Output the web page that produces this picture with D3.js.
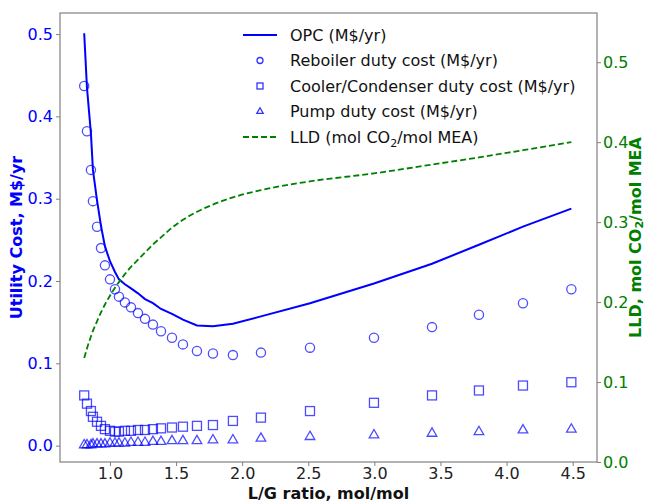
<!DOCTYPE html>
<html>
<head>
<meta charset="utf-8">
<script src="https://cdn.jsdelivr.net/npm/d3@7"></script>
<style>
  body { margin: 0; background: #fff; }
  svg { font-family: "DejaVu Sans", sans-serif; }
</style>
</head>
<body>
<svg id="chart" width="647" height="502"></svg>
<script>
// L/G ratio (mol/mol)
const lgRatio = [0.805, 0.826, 0.856, 0.871, 0.902, 0.932, 0.962, 1.0, 1.038, 1.068,
  1.113, 1.159, 1.212, 1.265, 1.325, 1.386, 1.469, 1.552, 1.658, 1.779,
  1.93, 2.142, 2.513, 2.997, 3.436, 3.791, 4.124, 4.49];

// costs in M$/yr
const opc = [0.501, 0.435, 0.379, 0.335, 0.298, 0.267, 0.242, 0.224, 0.211, 0.202,
  0.196, 0.191, 0.185, 0.178, 0.173, 0.166, 0.16, 0.153, 0.146, 0.145,
  0.148, 0.157, 0.173, 0.197, 0.221, 0.244, 0.266, 0.288];
const reboiler = [0.437, 0.382, 0.335, 0.297, 0.266, 0.24, 0.219, 0.202, 0.19, 0.181,
  0.174, 0.168, 0.161, 0.154, 0.147, 0.139, 0.131, 0.123, 0.115, 0.112,
  0.11, 0.113, 0.119, 0.131, 0.144, 0.159, 0.173, 0.19];
const cooler = [0.061, 0.051, 0.042, 0.035, 0.029, 0.024, 0.02, 0.018, 0.017, 0.017,
  0.018, 0.018, 0.019, 0.019, 0.02, 0.021, 0.022, 0.023, 0.024, 0.025,
  0.03, 0.034, 0.042, 0.052, 0.061, 0.067, 0.073, 0.077];
const pump = [0.002, 0.002, 0.002, 0.003, 0.003, 0.003, 0.003, 0.004, 0.004, 0.004,
  0.004, 0.005, 0.005, 0.005, 0.006, 0.006, 0.007, 0.007, 0.007, 0.008,
  0.008, 0.01, 0.012, 0.014, 0.016, 0.018, 0.02, 0.021];

// lean loading difference, mol CO2/mol MEA
const lld = [0.13, 0.142, 0.157, 0.164, 0.176, 0.187, 0.197, 0.208, 0.218, 0.225,
  0.235, 0.244, 0.253, 0.262, 0.272, 0.281, 0.293, 0.303, 0.313, 0.322,
  0.331, 0.34, 0.351, 0.361, 0.372, 0.381, 0.39, 0.4];

const xTicks = [1.0, 1.5, 2.0, 2.5, 3.0, 3.5, 4.0, 4.5];
const leftTicks = [0.0, 0.1, 0.2, 0.3, 0.4, 0.5];
const rightTicks = [0.0, 0.1, 0.2, 0.3, 0.4, 0.5];

const svg = d3.select("#chart");
const plotLeft = 60, plotRight = 597, plotTop = 13, plotBottom = 462;
const blue = "#0000ff", green = "#008000", frame = "#808080";

const xScale = d3.scaleLinear().domain([0.622, 4.684]).range([plotLeft, plotRight]);
const yLeft = d3.scaleLinear().domain([-0.0199, 0.5256]).range([plotBottom, plotTop]);
const yRight = d3.scaleLinear().domain([0, 0.5616]).range([plotBottom, plotTop]);

// OPC line
svg
  .append("path")
  .attr("fill", "none")
  .attr("stroke", blue)
  .attr("stroke-width", 2)
  .attr("d", d3.line().x((d, i) => xScale(lgRatio[i])).y((d) => yLeft(d))(opc));

// reboiler circles
svg
  .append("g")
  .selectAll("circle")
  .data(reboiler)
  .enter()
  .append("circle")
  .attr("cx", (d, i) => xScale(lgRatio[i]))
  .attr("cy", (d) => yLeft(d))
  .attr("r", 4.6)
  .attr("fill", "none")
  .attr("stroke", blue)
  .attr("stroke-opacity", 0.7)
  .attr("stroke-width", 1.3);

// cooler squares
svg
  .append("g")
  .selectAll("rect")
  .data(cooler)
  .enter()
  .append("rect")
  .attr("x", (d, i) => xScale(lgRatio[i]) - 4.5)
  .attr("y", (d) => yLeft(d) - 4.5)
  .attr("width", 9)
  .attr("height", 9)
  .attr("fill", "none")
  .attr("stroke", blue)
  .attr("stroke-opacity", 0.7)
  .attr("stroke-width", 1.3);

// pump triangles
const tri = d3.symbol().type(d3.symbolTriangle).size(40);
svg
  .append("g")
  .selectAll("path")
  .data(pump)
  .enter()
  .append("path")
  .attr("d", tri)
  .attr("transform", (d, i) => `translate(${xScale(lgRatio[i])},${yLeft(d) + 1})`)
  .attr("fill", "none")
  .attr("stroke", blue)
  .attr("stroke-opacity", 0.7)
  .attr("stroke-width", 1.3);

// LLD dashed line on right axis
svg
  .append("path")
  .attr("fill", "none")
  .attr("stroke", green)
  .attr("stroke-width", 1.8)
  .attr("stroke-dasharray", "6,3")
  .attr("d", d3.line().x((d, i) => xScale(lgRatio[i])).y((d) => yRight(d)).curve(d3.curveMonotoneX)(lld));

// frame
svg
  .append("rect")
  .attr("x", plotLeft)
  .attr("y", plotTop)
  .attr("width", plotRight - plotLeft)
  .attr("height", plotBottom - plotTop)
  .attr("fill", "none")
  .attr("stroke", frame)
  .attr("stroke-width", 1.2);

// x-axis
const xAxis = svg
  .append("g")
  .attr("transform", `translate(0, ${plotBottom})`)
  .call(d3.axisBottom(xScale).tickValues(xTicks).tickFormat(d3.format(".1f")).tickSize(4).tickPadding(2));
xAxis.select(".domain").remove();
xAxis.selectAll("line").attr("stroke", frame);
xAxis.selectAll("text").attr("fill", "#222").style("font-size", "16px").style("font-family", "DejaVu Sans");

// left y-axis
const yAxisL = svg
  .append("g")
  .attr("transform", `translate(${plotLeft}, 0)`)
  .call(d3.axisLeft(yLeft).tickValues(leftTicks).tickFormat(d3.format(".1f")).tickSize(4).tickPadding(3));
yAxisL.select(".domain").remove();
yAxisL.selectAll("line").attr("stroke", frame);
yAxisL.selectAll("text").attr("fill", blue).style("font-size", "16px").style("font-family", "DejaVu Sans");

// right y-axis
const yAxisR = svg
  .append("g")
  .attr("transform", `translate(${plotRight}, 0)`)
  .call(d3.axisRight(yRight).tickValues(rightTicks).tickFormat(d3.format(".1f")).tickSize(4).tickPadding(2));
yAxisR.select(".domain").remove();
yAxisR.selectAll("line").attr("stroke", frame);
yAxisR.selectAll("text").attr("fill", green).style("font-size", "16px").style("font-family", "DejaVu Sans");

// axis titles
svg
  .append("text")
  .attr("x", (plotLeft + plotRight) / 2)
  .attr("y", 499)
  .attr("text-anchor", "middle")
  .style("font-size", "16px")
  .style("font-weight", "bold")
  .attr("fill", "#111")
  .text("L/G ratio, mol/mol");

svg
  .append("text")
  .attr("transform", `translate(22, ${(plotTop + plotBottom) / 2}) rotate(-90)`)
  .attr("text-anchor", "middle")
  .style("font-size", "16px")
  .style("font-weight", "bold")
  .attr("fill", blue)
  .text("Utility Cost, M$/yr");

const rightLabel = svg
  .append("text")
  .attr("transform", `translate(641, ${(plotTop + plotBottom) / 2}) rotate(-90)`)
  .attr("text-anchor", "middle")
  .style("font-size", "16px")
  .style("font-weight", "bold")
  .attr("fill", green);
rightLabel.append("tspan").text("LLD, mol CO");
rightLabel.append("tspan").attr("dy", 2).style("font-size", "11px").text("2");
rightLabel.append("tspan").attr("dy", -2).text("/mol MEA");

// legend
const legendRows = [35, 60.5, 86, 111, 137];
const legendX = 243, legendText = 290;
const lg = svg.append("g").style("font-size", "16px").attr("fill", "#111");

lg.append("line")
  .attr("x1", legendX).attr("x2", legendX + 34)
  .attr("y1", legendRows[0]).attr("y2", legendRows[0])
  .attr("stroke", blue).attr("stroke-width", 2);
lg.append("circle")
  .attr("cx", legendX + 17).attr("cy", legendRows[1]).attr("r", 3)
  .attr("fill", "none").attr("stroke", blue).attr("stroke-width", 1.3).attr("stroke-opacity", 0.8);
lg.append("rect")
  .attr("x", legendX + 14).attr("y", legendRows[2] - 3).attr("width", 6).attr("height", 6)
  .attr("fill", "none").attr("stroke", blue).attr("stroke-width", 1.3).attr("stroke-opacity", 0.8);
lg.append("path")
  .attr("d", d3.symbol().type(d3.symbolTriangle).size(18))
  .attr("transform", `translate(${legendX + 17},${legendRows[3] + 0.5})`)
  .attr("fill", "none").attr("stroke", blue).attr("stroke-width", 1.3).attr("stroke-opacity", 0.8);
lg.append("line")
  .attr("x1", legendX).attr("x2", legendX + 34)
  .attr("y1", legendRows[4]).attr("y2", legendRows[4])
  .attr("stroke", green).attr("stroke-width", 1.8).attr("stroke-dasharray", "6,3");

const legendLabels = [
  "OPC (M$/yr)",
  "Reboiler duty cost (M$/yr)",
  "Cooler/Condenser duty cost (M$/yr)",
  "Pump duty cost (M$/yr)",
];
legendLabels.forEach((t, i) => {
  lg.append("text").attr("x", legendText).attr("y", legendRows[i]).attr("dy", "0.35em").text(t);
});
const lldText = lg.append("text").attr("x", legendText).attr("y", legendRows[4]).attr("dy", "0.35em");
lldText.append("tspan").text("LLD (mol CO");
lldText.append("tspan").attr("dy", 4).style("font-size", "11px").text("2");
lldText.append("tspan").attr("dy", -4).text("/mol MEA)");
</script>
</body>
</html>
